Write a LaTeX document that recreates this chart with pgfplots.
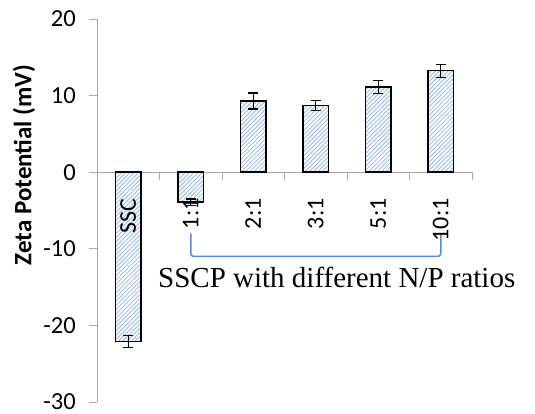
\documentclass[border=0pt]{standalone}
\usepackage{fontspec}
\setmainfont{Carlito}
\newfontfamily\timesf{Liberation Serif}
\usepackage{pgfplots}
\pgfplotsset{compat=1.18}
\usetikzlibrary{patterns.meta}
\definecolor{axisgray}{HTML}{A6A6A6}
\definecolor{hatch}{HTML}{A2C0E8}
\definecolor{brk}{HTML}{5B8BD0}
\pgfplotsset{
  layers/labelsontop/.define layer set={
    axis background,axis grid,axis ticks,axis lines,pre main,main,axis tick labels,axis descriptions,axis foreground
  }{/pgfplots/layers/standard},
}
\pgfplotstableread{
x y e
0 -22.1 0.75
1 -3.9 0.4
2 9.3 1.05
3 8.7 0.65
4 11.1 0.85
5 13.25 0.85
}\zeta
\begin{document}
\begin{tikzpicture}
\begin{axis}[
  set layers=labelsontop,
  at={(0,0)}, anchor=south west,
  scale only axis, width=375pt, height=383pt,
  xmin=-0.5, xmax=5.5, ymin=-30, ymax=20,
  clip=false,
  axis x line=middle, axis y line=left,
  axis line style={axisgray, line width=1pt, -},
  tick align=outside,
  major tick length=8pt, minor tick length=8pt,
  xtick={0,...,5}, xticklabels={SSC,1:1,2:1,3:1,5:1,10:1},
  minor xtick={0.5,1.5,2.5,3.5,4.5,5.5},
  major x tick style={draw=none},
  minor x tick style={draw=axisgray, line width=1pt},
  ytick={-30,-20,-10,0,10,20},
  yticklabels={-30,-20,-10,0,10,20},
  ytick style={draw=axisgray, line width=1pt},
  xticklabel style={rotate=90, anchor=east, inner sep=0pt, xshift=-18pt, font=\fontsize{24}{28}\selectfont},
  yticklabel style={anchor=east, inner sep=0pt, xshift=-13pt, font=\fontsize{24.5}{28}\selectfont},
  every axis y label/.style={at={(rel axis cs:0,0.619)}, xshift=-73pt, rotate=90, anchor=center, font=\fontsize{25}{30}\selectfont\bfseries},
  ylabel={Zeta Potential (mV)},
  ybar, bar width=25.5pt,
]
\addplot[draw=black, line width=1.5pt,
  pattern={Lines[angle=45,distance=3pt,line width=1pt]}, pattern color=hatch,
  error bars/.cd, y dir=both, y explicit,
  error bar style={draw=black, line width=1.2pt, pattern=none},
  error mark options={rotate=90, mark size=5pt, draw=black, line width=1.2pt}]
  table[x=x, y=y, y error=e] {\zeta};
\draw[brk, line width=1.5pt, rounded corners=3pt] (axis cs:1,-8) -- (axis cs:1,-11) -- (axis cs:5,-11) -- (axis cs:5,-8);
\node[anchor=base west, inner sep=0pt, font=\timesf\fontsize{29}{34}\selectfont] at (axis cs:0.476,-15.03) {SSCP with different N/P ratios};
\end{axis}
\pgfresetboundingbox
\useasboundingbox (-97pt,-11pt) rectangle (438pt,402pt);
\end{tikzpicture}
\end{document}
